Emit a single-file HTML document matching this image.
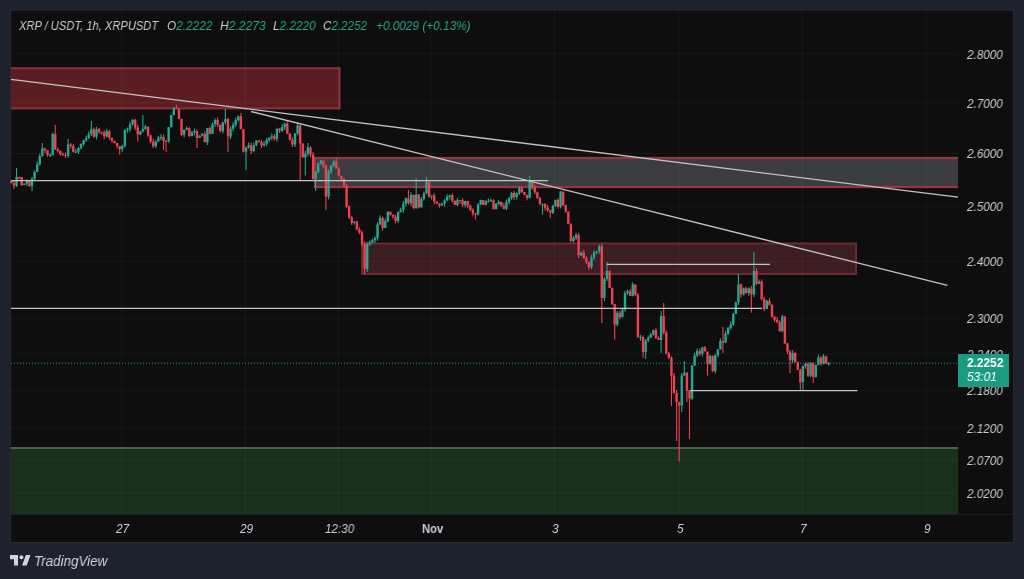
<!DOCTYPE html>
<html><head><meta charset="utf-8"><style>
*{margin:0;padding:0;box-sizing:border-box}
html,body{width:1024px;height:579px;overflow:hidden;background:#1e222d;font-family:"Liberation Sans",sans-serif}
svg{position:absolute;left:0;top:0}
.t{position:absolute;white-space:pre;transform-origin:0 0;will-change:transform}
</style></head><body>
<svg width="1024" height="579" viewBox="0 0 1024 579"><defs><clipPath id="plot"><rect x="11" y="10" width="947" height="504"/></clipPath></defs>
<rect x="10.5" y="10" width="1003" height="532.5" fill="#0e0e0e" stroke="#262a35" stroke-width="1"/><rect x="11" y="448" width="947" height="66" fill="#1a2f1c"/><line x1="11" y1="448" x2="958" y2="448" stroke="#4b604b" stroke-width="2"/><g clip-path="url(#plot)"><rect x="5" y="68.2" width="334.5" height="40.2" fill="#5c1d22" stroke="#8e2f3b" stroke-width="2"/><rect x="315" y="158" width="650" height="29" fill="#3a3c40" stroke="#9a3341" stroke-width="2.3"/></g><rect x="362" y="243.5" width="494" height="30.5" fill="#3c1d21" stroke="#6b2a31" stroke-width="2"/><line x1="121.9" y1="10" x2="121.9" y2="514" stroke="rgba(255,255,255,0.045)" stroke-width="1"/><line x1="245.3" y1="10" x2="245.3" y2="514" stroke="rgba(255,255,255,0.045)" stroke-width="1"/><line x1="338.6" y1="10" x2="338.6" y2="514" stroke="rgba(255,255,255,0.045)" stroke-width="1"/><line x1="430.8" y1="10" x2="430.8" y2="514" stroke="rgba(255,255,255,0.045)" stroke-width="1"/><line x1="554.4" y1="10" x2="554.4" y2="514" stroke="rgba(255,255,255,0.045)" stroke-width="1"/><line x1="678.7" y1="10" x2="678.7" y2="514" stroke="rgba(255,255,255,0.045)" stroke-width="1"/><line x1="802.2" y1="10" x2="802.2" y2="514" stroke="rgba(255,255,255,0.045)" stroke-width="1"/><line x1="926.3" y1="10" x2="926.3" y2="514" stroke="rgba(255,255,255,0.045)" stroke-width="1"/><line x1="11" y1="53.9" x2="958" y2="53.9" stroke="rgba(255,255,255,0.045)" stroke-width="1"/><line x1="11" y1="102.8" x2="958" y2="102.8" stroke="rgba(255,255,255,0.045)" stroke-width="1"/><line x1="11" y1="153.5" x2="958" y2="153.5" stroke="rgba(255,255,255,0.045)" stroke-width="1"/><line x1="11" y1="206.3" x2="958" y2="206.3" stroke="rgba(255,255,255,0.045)" stroke-width="1"/><line x1="11" y1="261.2" x2="958" y2="261.2" stroke="rgba(255,255,255,0.045)" stroke-width="1"/><line x1="11" y1="318.4" x2="958" y2="318.4" stroke="rgba(255,255,255,0.045)" stroke-width="1"/><line x1="11" y1="353.9" x2="958" y2="353.9" stroke="rgba(255,255,255,0.045)" stroke-width="1"/><line x1="11" y1="390.4" x2="958" y2="390.4" stroke="rgba(255,255,255,0.045)" stroke-width="1"/><line x1="11" y1="428.0" x2="958" y2="428.0" stroke="rgba(255,255,255,0.045)" stroke-width="1"/><line x1="11" y1="460.1" x2="958" y2="460.1" stroke="rgba(255,255,255,0.045)" stroke-width="1"/><line x1="11" y1="492.9" x2="958" y2="492.9" stroke="rgba(255,255,255,0.045)" stroke-width="1"/><path fill="#22a98f" d="M16.01 168.0h1.1v18.9h-1.1zM23.74 183.3h1.1v1.8h-1.1zM26.32 179.2h1.1v6.8h-1.1zM31.48 176.9h1.1v14.1h-1.1zM34.05 170.2h1.1v9.7h-1.1zM36.63 161.6h1.1v10.5h-1.1zM39.21 153.6h1.1v11.8h-1.1zM41.79 143.0h1.1v13.5h-1.1zM49.52 153.1h1.1v4.0h-1.1zM52.10 132.5h1.1v22.8h-1.1zM67.57 139.0h1.1v18.6h-1.1zM75.31 148.8h1.1v4.3h-1.1zM77.88 146.7h1.1v7.3h-1.1zM80.46 143.4h1.1v6.0h-1.1zM83.04 140.1h1.1v5.7h-1.1zM85.62 135.8h1.1v6.2h-1.1zM88.20 131.5h1.1v7.5h-1.1zM90.78 121.0h1.1v14.9h-1.1zM95.93 126.8h1.1v12.8h-1.1zM106.24 128.8h1.1v8.4h-1.1zM121.71 144.8h1.1v7.0h-1.1zM124.29 129.7h1.1v17.7h-1.1zM126.87 127.5h1.1v5.3h-1.1zM129.45 121.8h1.1v9.9h-1.1zM132.03 119.0h1.1v6.5h-1.1zM139.76 130.7h1.1v4.6h-1.1zM142.34 115.0h1.1v17.7h-1.1zM144.92 124.8h1.1v5.0h-1.1zM155.23 140.0h1.1v8.1h-1.1zM157.81 135.8h1.1v5.9h-1.1zM160.39 134.3h1.1v6.0h-1.1zM168.12 127.0h1.1v16.1h-1.1zM170.70 114.9h1.1v12.6h-1.1zM173.28 107.3h1.1v8.3h-1.1zM183.59 129.6h1.1v7.8h-1.1zM186.17 126.2h1.1v4.0h-1.1zM191.33 131.1h1.1v5.4h-1.1zM193.90 128.5h1.1v6.7h-1.1zM199.06 135.3h1.1v3.0h-1.1zM201.64 133.1h1.1v3.3h-1.1zM206.80 128.0h1.1v17.0h-1.1zM211.95 122.5h1.1v11.4h-1.1zM214.53 118.6h1.1v8.5h-1.1zM222.27 121.7h1.1v11.9h-1.1zM224.84 109.0h1.1v15.6h-1.1zM230.00 126.3h1.1v12.9h-1.1zM232.58 122.2h1.1v9.0h-1.1zM235.16 117.5h1.1v9.4h-1.1zM237.73 115.5h1.1v6.1h-1.1zM245.47 146.7h1.1v23.3h-1.1zM248.05 142.4h1.1v6.4h-1.1zM253.20 142.7h1.1v9.5h-1.1zM255.78 140.1h1.1v6.1h-1.1zM263.52 141.2h1.1v5.6h-1.1zM266.10 138.0h1.1v8.1h-1.1zM268.67 137.3h1.1v4.7h-1.1zM271.25 133.6h1.1v6.4h-1.1zM276.41 128.2h1.1v13.2h-1.1zM281.56 124.2h1.1v7.7h-1.1zM284.14 122.5h1.1v7.5h-1.1zM294.46 132.9h1.1v14.0h-1.1zM297.03 122.6h1.1v12.7h-1.1zM304.77 150.8h1.1v24.8h-1.1zM307.35 143.0h1.1v13.5h-1.1zM315.08 171.1h1.1v19.9h-1.1zM317.66 162.7h1.1v10.9h-1.1zM320.24 159.8h1.1v4.9h-1.1zM327.97 169.5h1.1v29.7h-1.1zM330.55 164.4h1.1v9.5h-1.1zM333.13 160.0h1.1v7.3h-1.1zM353.76 221.2h1.1v3.2h-1.1zM366.65 242.0h1.1v30.0h-1.1zM369.22 240.6h1.1v5.3h-1.1zM371.80 238.8h1.1v4.9h-1.1zM374.38 236.6h1.1v6.4h-1.1zM376.96 222.3h1.1v18.4h-1.1zM379.54 215.3h1.1v9.9h-1.1zM384.69 218.6h1.1v9.7h-1.1zM387.27 211.3h1.1v11.1h-1.1zM397.59 211.5h1.1v11.5h-1.1zM400.16 207.8h1.1v4.6h-1.1zM402.74 201.1h1.1v11.6h-1.1zM405.32 197.6h1.1v9.0h-1.1zM410.48 192.2h1.1v13.7h-1.1zM415.63 178.0h1.1v31.0h-1.1zM420.79 196.9h1.1v10.7h-1.1zM423.37 191.5h1.1v8.9h-1.1zM425.95 177.0h1.1v17.2h-1.1zM431.10 195.3h1.1v4.1h-1.1zM441.41 202.8h1.1v3.0h-1.1zM443.99 199.2h1.1v7.2h-1.1zM446.57 194.3h1.1v6.9h-1.1zM449.15 194.8h1.1v4.7h-1.1zM456.88 197.9h1.1v8.2h-1.1zM464.62 200.8h1.1v6.6h-1.1zM477.51 203.0h1.1v12.4h-1.1zM480.09 199.8h1.1v5.3h-1.1zM485.24 200.3h1.1v5.3h-1.1zM487.82 198.7h1.1v4.1h-1.1zM490.40 198.7h1.1v3.0h-1.1zM495.56 203.0h1.1v6.3h-1.1zM498.14 199.9h1.1v5.5h-1.1zM505.87 199.6h1.1v10.6h-1.1zM508.45 196.8h1.1v7.7h-1.1zM511.03 191.8h1.1v8.0h-1.1zM516.18 192.2h1.1v7.3h-1.1zM518.76 186.2h1.1v8.9h-1.1zM529.07 176.0h1.1v22.5h-1.1zM541.97 203.5h1.1v11.3h-1.1zM552.28 204.8h1.1v9.1h-1.1zM554.86 199.8h1.1v7.1h-1.1zM560.01 191.0h1.1v17.5h-1.1zM572.90 236.1h1.1v6.5h-1.1zM575.48 232.7h1.1v7.2h-1.1zM580.64 251.6h1.1v4.7h-1.1zM590.95 254.9h1.1v14.2h-1.1zM593.53 250.4h1.1v9.7h-1.1zM596.11 250.9h1.1v3.3h-1.1zM598.69 244.7h1.1v9.1h-1.1zM603.84 277.2h1.1v23.6h-1.1zM606.42 262.0h1.1v19.1h-1.1zM616.73 311.0h1.1v15.4h-1.1zM621.89 308.1h1.1v9.2h-1.1zM624.47 290.7h1.1v21.0h-1.1zM627.05 289.7h1.1v5.1h-1.1zM632.20 282.2h1.1v14.4h-1.1zM639.94 334.7h1.1v6.1h-1.1zM645.10 339.1h1.1v19.9h-1.1zM647.67 335.4h1.1v7.0h-1.1zM650.25 332.7h1.1v5.2h-1.1zM652.83 329.6h1.1v5.8h-1.1zM660.56 311.0h1.1v42.0h-1.1zM681.19 373.0h1.1v39.0h-1.1zM683.77 361.0h1.1v15.2h-1.1zM691.50 365.0h1.1v35.1h-1.1zM694.08 352.8h1.1v13.1h-1.1zM696.66 348.6h1.1v8.6h-1.1zM701.82 346.8h1.1v9.7h-1.1zM709.55 354.7h1.1v10.3h-1.1zM714.71 354.3h1.1v19.0h-1.1zM717.29 349.3h1.1v8.3h-1.1zM719.86 338.4h1.1v11.3h-1.1zM725.02 331.1h1.1v12.2h-1.1zM727.60 326.8h1.1v8.2h-1.1zM730.18 321.5h1.1v8.2h-1.1zM732.76 312.7h1.1v13.0h-1.1zM735.33 301.5h1.1v12.4h-1.1zM737.91 274.0h1.1v30.9h-1.1zM743.07 287.5h1.1v7.9h-1.1zM748.22 287.3h1.1v8.6h-1.1zM753.38 252.0h1.1v45.3h-1.1zM758.54 279.4h1.1v4.5h-1.1zM766.27 299.9h1.1v9.4h-1.1zM781.74 314.9h1.1v17.4h-1.1zM792.05 350.3h1.1v13.0h-1.1zM802.37 365.4h1.1v24.6h-1.1zM804.95 362.4h1.1v6.4h-1.1zM810.10 362.0h1.1v15.3h-1.1zM815.26 364.8h1.1v13.0h-1.1zM817.84 354.7h1.1v10.7h-1.1zM822.99 353.9h1.1v10.6h-1.1zM828.15 362.1h1.1v3.5h-1.1zM15.36 176.9h2.4v8.9h-2.4zM23.09 183.5h2.4v1.4h-2.4zM25.67 180.5h2.4v3.0h-2.4zM30.83 178.8h2.4v7.3h-2.4zM33.40 172.0h2.4v6.8h-2.4zM35.98 164.5h2.4v7.4h-2.4zM38.56 156.1h2.4v8.4h-2.4zM41.14 148.5h2.4v7.7h-2.4zM48.87 155.1h2.4v1.0h-2.4zM51.45 134.1h2.4v20.9h-2.4zM66.92 144.6h2.4v11.2h-2.4zM74.66 151.7h2.4v1.0h-2.4zM77.23 148.0h2.4v3.7h-2.4zM79.81 143.8h2.4v4.1h-2.4zM82.39 140.3h2.4v3.6h-2.4zM84.97 138.1h2.4v2.2h-2.4zM87.55 134.2h2.4v3.9h-2.4zM90.13 129.2h2.4v4.9h-2.4zM95.28 129.3h2.4v7.4h-2.4zM105.59 131.3h2.4v5.1h-2.4zM121.06 146.0h2.4v3.2h-2.4zM123.64 129.9h2.4v16.1h-2.4zM126.22 129.1h2.4v1.0h-2.4zM128.80 124.3h2.4v4.9h-2.4zM131.38 119.8h2.4v4.5h-2.4zM139.11 131.2h2.4v3.4h-2.4zM141.69 129.0h2.4v2.2h-2.4zM144.27 126.6h2.4v2.4h-2.4zM154.58 141.5h2.4v4.7h-2.4zM157.16 137.8h2.4v3.7h-2.4zM159.74 137.0h2.4v1.0h-2.4zM167.47 127.3h2.4v13.9h-2.4zM170.05 115.1h2.4v12.2h-2.4zM172.63 107.9h2.4v7.2h-2.4zM182.94 129.7h2.4v5.1h-2.4zM185.52 128.0h2.4v1.7h-2.4zM190.68 132.2h2.4v3.9h-2.4zM193.25 131.0h2.4v1.2h-2.4zM198.41 135.6h2.4v2.4h-2.4zM200.99 134.1h2.4v1.5h-2.4zM206.15 128.1h2.4v14.1h-2.4zM211.30 124.2h2.4v9.7h-2.4zM213.88 120.1h2.4v4.0h-2.4zM221.62 122.2h2.4v9.1h-2.4zM224.19 119.1h2.4v3.1h-2.4zM229.35 128.8h2.4v7.6h-2.4zM231.93 124.8h2.4v4.0h-2.4zM234.51 120.0h2.4v4.8h-2.4zM237.08 116.2h2.4v3.8h-2.4zM244.82 147.5h2.4v4.3h-2.4zM247.40 145.3h2.4v2.2h-2.4zM252.55 145.5h2.4v5.6h-2.4zM255.13 140.7h2.4v4.8h-2.4zM262.87 143.7h2.4v1.6h-2.4zM265.45 140.0h2.4v3.7h-2.4zM268.02 137.6h2.4v2.4h-2.4zM270.60 136.3h2.4v1.3h-2.4zM275.76 128.7h2.4v10.3h-2.4zM280.91 127.1h2.4v3.6h-2.4zM283.49 123.7h2.4v3.4h-2.4zM293.81 133.4h2.4v11.1h-2.4zM296.38 125.6h2.4v7.8h-2.4zM304.12 153.7h2.4v3.7h-2.4zM306.70 147.6h2.4v6.2h-2.4zM314.43 171.9h2.4v7.1h-2.4zM317.01 163.5h2.4v8.4h-2.4zM319.59 160.6h2.4v2.9h-2.4zM327.32 171.2h2.4v25.3h-2.4zM329.90 165.7h2.4v5.5h-2.4zM332.48 161.5h2.4v4.2h-2.4zM353.11 221.5h2.4v1.2h-2.4zM366.00 243.9h2.4v25.2h-2.4zM368.57 242.2h2.4v1.7h-2.4zM371.15 240.2h2.4v2.0h-2.4zM373.73 238.1h2.4v2.1h-2.4zM376.31 224.4h2.4v13.7h-2.4zM378.89 218.1h2.4v6.3h-2.4zM384.04 221.1h2.4v6.8h-2.4zM386.62 211.7h2.4v9.5h-2.4zM396.94 212.0h2.4v8.9h-2.4zM399.51 209.8h2.4v2.2h-2.4zM402.09 203.8h2.4v6.0h-2.4zM404.67 198.3h2.4v5.5h-2.4zM409.83 195.1h2.4v8.2h-2.4zM414.98 194.6h2.4v13.4h-2.4zM420.14 199.1h2.4v8.5h-2.4zM422.72 193.2h2.4v5.9h-2.4zM425.30 182.1h2.4v11.1h-2.4zM430.45 195.5h2.4v1.0h-2.4zM440.76 203.6h2.4v1.8h-2.4zM443.34 200.4h2.4v3.2h-2.4zM445.92 196.8h2.4v3.7h-2.4zM448.50 195.3h2.4v1.5h-2.4zM456.23 200.0h2.4v4.9h-2.4zM463.97 201.0h2.4v3.8h-2.4zM476.86 204.5h2.4v10.1h-2.4zM479.44 200.1h2.4v4.5h-2.4zM484.59 201.3h2.4v3.4h-2.4zM487.17 201.0h2.4v1.0h-2.4zM489.75 200.2h2.4v1.0h-2.4zM494.91 203.8h2.4v5.5h-2.4zM497.49 202.1h2.4v1.7h-2.4zM505.22 202.0h2.4v6.8h-2.4zM507.80 198.3h2.4v3.7h-2.4zM510.38 193.0h2.4v5.3h-2.4zM515.53 193.2h2.4v3.8h-2.4zM518.11 188.3h2.4v4.9h-2.4zM528.42 181.9h2.4v16.1h-2.4zM541.32 203.9h2.4v1.0h-2.4zM551.63 205.8h2.4v7.1h-2.4zM554.21 199.8h2.4v6.0h-2.4zM559.36 191.6h2.4v15.4h-2.4zM572.25 237.9h2.4v3.1h-2.4zM574.83 235.0h2.4v2.9h-2.4zM579.99 252.8h2.4v2.5h-2.4zM590.30 257.6h2.4v9.6h-2.4zM592.88 252.6h2.4v5.0h-2.4zM595.46 251.3h2.4v1.3h-2.4zM598.04 246.2h2.4v5.0h-2.4zM603.19 279.0h2.4v19.1h-2.4zM605.77 271.0h2.4v8.0h-2.4zM616.08 312.7h2.4v11.9h-2.4zM621.24 309.5h2.4v7.7h-2.4zM623.82 293.1h2.4v16.4h-2.4zM626.40 291.2h2.4v2.0h-2.4zM631.55 284.4h2.4v11.5h-2.4zM639.29 336.9h2.4v1.0h-2.4zM644.45 340.5h2.4v11.4h-2.4zM647.02 337.7h2.4v2.8h-2.4zM649.60 334.6h2.4v3.1h-2.4zM652.18 330.1h2.4v4.6h-2.4zM659.91 315.9h2.4v24.1h-2.4zM680.54 375.4h2.4v30.0h-2.4zM683.12 372.7h2.4v2.7h-2.4zM690.85 365.5h2.4v33.1h-2.4zM693.43 355.6h2.4v9.8h-2.4zM696.01 351.0h2.4v4.6h-2.4zM701.17 347.4h2.4v6.3h-2.4zM708.90 356.0h2.4v8.0h-2.4zM714.06 355.3h2.4v15.6h-2.4zM716.64 349.3h2.4v6.0h-2.4zM719.21 340.9h2.4v8.4h-2.4zM724.37 333.8h2.4v8.7h-2.4zM726.95 327.9h2.4v5.9h-2.4zM729.53 324.5h2.4v3.4h-2.4zM732.11 313.8h2.4v10.7h-2.4zM734.68 302.4h2.4v11.5h-2.4zM737.26 284.4h2.4v18.0h-2.4zM742.42 288.2h2.4v6.4h-2.4zM747.57 288.4h2.4v4.7h-2.4zM752.73 271.0h2.4v23.6h-2.4zM757.89 281.6h2.4v2.2h-2.4zM765.62 300.7h2.4v8.4h-2.4zM781.09 316.5h2.4v14.6h-2.4zM791.40 353.0h2.4v7.2h-2.4zM801.72 366.1h2.4v16.2h-2.4zM804.30 364.1h2.4v2.0h-2.4zM809.45 363.3h2.4v12.5h-2.4zM814.61 365.0h2.4v12.0h-2.4zM817.19 357.6h2.4v7.5h-2.4zM822.34 356.4h2.4v7.4h-2.4zM827.50 363.3h2.4v1.0h-2.4z"/><path fill="#f04152" d="M10.85 180.0h1.1v3.4h-1.1zM13.43 181.0h1.1v8.0h-1.1zM18.58 176.7h1.1v2.7h-1.1zM21.16 176.9h1.1v9.2h-1.1zM28.90 180.1h1.1v6.6h-1.1zM44.37 147.5h1.1v5.5h-1.1zM46.95 150.0h1.1v6.8h-1.1zM54.68 125.0h1.1v25.1h-1.1zM57.26 147.4h1.1v5.0h-1.1zM59.84 150.2h1.1v5.5h-1.1zM62.41 152.5h1.1v3.3h-1.1zM64.99 152.5h1.1v5.5h-1.1zM70.15 143.1h1.1v5.5h-1.1zM72.73 143.7h1.1v8.9h-1.1zM93.35 127.5h1.1v10.6h-1.1zM98.51 127.9h1.1v6.0h-1.1zM101.09 131.7h1.1v3.3h-1.1zM103.67 130.3h1.1v9.0h-1.1zM108.82 130.1h1.1v9.6h-1.1zM111.40 137.6h1.1v4.8h-1.1zM113.98 140.5h1.1v2.9h-1.1zM116.56 142.9h1.1v5.6h-1.1zM119.14 145.8h1.1v8.8h-1.1zM134.61 118.8h1.1v11.5h-1.1zM137.18 124.7h1.1v16.8h-1.1zM147.50 126.6h1.1v10.2h-1.1zM150.07 134.4h1.1v9.0h-1.1zM152.65 138.8h1.1v9.5h-1.1zM162.97 134.4h1.1v15.6h-1.1zM165.54 139.9h1.1v12.1h-1.1zM175.86 104.7h1.1v4.4h-1.1zM178.44 108.5h1.1v10.8h-1.1zM181.01 118.6h1.1v17.4h-1.1zM188.75 127.2h1.1v9.9h-1.1zM196.48 129.6h1.1v18.4h-1.1zM204.22 131.6h1.1v11.0h-1.1zM209.37 126.5h1.1v7.8h-1.1zM217.11 117.6h1.1v9.5h-1.1zM219.69 124.1h1.1v8.3h-1.1zM227.42 118.1h1.1v33.6h-1.1zM240.31 113.0h1.1v16.3h-1.1zM242.89 129.1h1.1v23.5h-1.1zM250.63 142.5h1.1v11.6h-1.1zM258.36 140.1h1.1v2.4h-1.1zM260.94 140.1h1.1v7.9h-1.1zM273.83 134.0h1.1v6.4h-1.1zM278.99 127.7h1.1v5.3h-1.1zM286.72 120.0h1.1v14.1h-1.1zM289.30 133.2h1.1v7.3h-1.1zM291.88 137.3h1.1v9.6h-1.1zM299.61 124.5h1.1v56.5h-1.1zM302.19 143.0h1.1v14.4h-1.1zM309.93 146.3h1.1v10.9h-1.1zM312.50 152.0h1.1v27.6h-1.1zM322.82 160.2h1.1v7.8h-1.1zM325.39 164.2h1.1v45.8h-1.1zM335.71 158.0h1.1v10.5h-1.1zM338.29 167.2h1.1v9.1h-1.1zM340.86 175.7h1.1v5.4h-1.1zM343.44 178.2h1.1v8.8h-1.1zM346.02 183.4h1.1v24.8h-1.1zM348.60 205.5h1.1v13.5h-1.1zM351.18 215.8h1.1v9.3h-1.1zM356.33 220.7h1.1v9.6h-1.1zM358.91 227.2h1.1v6.8h-1.1zM361.49 230.8h1.1v15.6h-1.1zM364.07 241.4h1.1v32.6h-1.1zM382.12 216.4h1.1v14.3h-1.1zM389.85 211.4h1.1v4.0h-1.1zM392.43 214.5h1.1v4.3h-1.1zM395.01 214.4h1.1v9.2h-1.1zM407.90 190.0h1.1v14.8h-1.1zM413.05 194.6h1.1v14.7h-1.1zM418.21 194.0h1.1v14.6h-1.1zM428.52 180.2h1.1v17.7h-1.1zM433.68 193.2h1.1v11.2h-1.1zM436.26 201.2h1.1v3.1h-1.1zM438.84 203.3h1.1v4.5h-1.1zM451.73 193.5h1.1v9.3h-1.1zM454.31 200.5h1.1v4.6h-1.1zM459.46 199.8h1.1v4.0h-1.1zM462.04 198.3h1.1v9.0h-1.1zM467.20 200.8h1.1v7.5h-1.1zM469.78 204.4h1.1v6.5h-1.1zM472.35 208.2h1.1v8.2h-1.1zM474.93 212.8h1.1v6.6h-1.1zM482.67 199.9h1.1v5.4h-1.1zM492.98 199.2h1.1v10.2h-1.1zM500.71 201.5h1.1v5.6h-1.1zM503.29 202.9h1.1v6.3h-1.1zM513.61 191.0h1.1v8.9h-1.1zM521.34 187.1h1.1v5.9h-1.1zM523.92 191.8h1.1v3.5h-1.1zM526.50 194.7h1.1v5.6h-1.1zM531.65 181.6h1.1v8.3h-1.1zM534.23 184.8h1.1v9.5h-1.1zM536.81 191.5h1.1v7.2h-1.1zM539.39 197.0h1.1v8.5h-1.1zM544.54 203.1h1.1v7.6h-1.1zM547.12 204.9h1.1v7.0h-1.1zM549.70 209.5h1.1v8.5h-1.1zM557.44 198.4h1.1v10.1h-1.1zM562.59 191.6h1.1v14.3h-1.1zM565.17 204.8h1.1v7.9h-1.1zM567.75 211.4h1.1v12.9h-1.1zM570.33 223.3h1.1v18.4h-1.1zM578.06 232.8h1.1v25.1h-1.1zM583.22 249.8h1.1v8.9h-1.1zM585.80 256.1h1.1v7.8h-1.1zM588.37 261.8h1.1v7.9h-1.1zM601.27 243.8h1.1v79.2h-1.1zM609.00 270.3h1.1v17.7h-1.1zM611.58 287.5h1.1v17.6h-1.1zM614.16 303.7h1.1v35.9h-1.1zM619.31 310.8h1.1v8.4h-1.1zM629.63 289.2h1.1v6.9h-1.1zM634.78 284.2h1.1v11.8h-1.1zM637.36 293.0h1.1v44.7h-1.1zM642.52 335.4h1.1v22.6h-1.1zM655.41 327.8h1.1v11.1h-1.1zM657.99 336.3h1.1v3.7h-1.1zM663.14 303.0h1.1v31.5h-1.1zM665.72 330.4h1.1v23.9h-1.1zM668.30 351.9h1.1v7.2h-1.1zM670.88 356.3h1.1v49.7h-1.1zM673.46 373.1h1.1v20.5h-1.1zM676.03 390.1h1.1v50.9h-1.1zM678.61 401.9h1.1v59.9h-1.1zM686.35 372.1h1.1v29.9h-1.1zM688.93 390.2h1.1v48.8h-1.1zM699.24 348.4h1.1v7.5h-1.1zM704.39 346.0h1.1v5.6h-1.1zM706.97 351.5h1.1v24.3h-1.1zM712.13 355.6h1.1v16.3h-1.1zM722.44 327.0h1.1v26.0h-1.1zM740.49 283.5h1.1v13.9h-1.1zM745.65 286.7h1.1v6.9h-1.1zM750.80 285.8h1.1v26.9h-1.1zM755.96 268.2h1.1v17.2h-1.1zM761.12 279.4h1.1v21.0h-1.1zM763.69 296.8h1.1v14.3h-1.1zM768.85 297.9h1.1v7.6h-1.1zM771.43 303.7h1.1v14.0h-1.1zM774.01 315.8h1.1v6.1h-1.1zM776.59 316.7h1.1v6.3h-1.1zM779.16 320.3h1.1v11.7h-1.1zM784.32 316.0h1.1v27.9h-1.1zM786.90 342.8h1.1v11.3h-1.1zM789.48 350.0h1.1v23.3h-1.1zM794.63 351.7h1.1v10.8h-1.1zM797.21 361.5h1.1v8.6h-1.1zM799.79 368.8h1.1v21.2h-1.1zM807.52 361.9h1.1v15.1h-1.1zM812.68 362.2h1.1v20.8h-1.1zM820.42 356.1h1.1v9.6h-1.1zM825.57 355.6h1.1v8.6h-1.1zM10.20 181.0h2.4v2.0h-2.4zM12.78 183.0h2.4v2.8h-2.4zM17.93 176.9h2.4v1.0h-2.4zM20.51 177.1h2.4v7.8h-2.4zM28.25 180.5h2.4v5.5h-2.4zM43.72 148.5h2.4v2.1h-2.4zM46.30 150.6h2.4v4.5h-2.4zM54.03 134.1h2.4v15.4h-2.4zM56.61 149.5h2.4v1.6h-2.4zM59.19 151.1h2.4v2.8h-2.4zM61.76 153.9h2.4v1.0h-2.4zM64.34 154.9h2.4v1.0h-2.4zM69.50 144.6h2.4v1.3h-2.4zM72.08 145.9h2.4v5.9h-2.4zM92.70 129.2h2.4v7.5h-2.4zM97.86 129.3h2.4v2.6h-2.4zM100.44 131.9h2.4v1.0h-2.4zM103.02 132.3h2.4v4.0h-2.4zM108.17 131.3h2.4v6.4h-2.4zM110.75 137.7h2.4v3.4h-2.4zM113.33 141.0h2.4v2.0h-2.4zM115.91 143.0h2.4v3.1h-2.4zM118.49 146.2h2.4v3.1h-2.4zM133.96 119.8h2.4v7.8h-2.4zM136.53 127.6h2.4v7.0h-2.4zM146.85 126.6h2.4v8.9h-2.4zM149.42 135.5h2.4v6.2h-2.4zM152.00 141.7h2.4v4.5h-2.4zM162.32 137.0h2.4v4.0h-2.4zM164.89 141.0h2.4v1.0h-2.4zM175.21 107.9h2.4v1.0h-2.4zM177.79 108.5h2.4v10.4h-2.4zM180.36 118.9h2.4v16.0h-2.4zM188.10 128.0h2.4v8.1h-2.4zM195.83 131.0h2.4v7.0h-2.4zM203.57 134.1h2.4v8.0h-2.4zM208.72 128.1h2.4v5.7h-2.4zM216.46 120.1h2.4v4.8h-2.4zM219.04 124.9h2.4v6.4h-2.4zM226.77 119.1h2.4v17.2h-2.4zM239.66 116.2h2.4v13.0h-2.4zM242.24 129.2h2.4v22.6h-2.4zM249.98 145.3h2.4v5.8h-2.4zM257.71 140.7h2.4v1.2h-2.4zM260.29 142.0h2.4v3.4h-2.4zM273.18 136.3h2.4v2.7h-2.4zM278.34 128.7h2.4v1.9h-2.4zM286.07 123.7h2.4v9.9h-2.4zM288.65 133.6h2.4v6.4h-2.4zM291.23 140.0h2.4v4.5h-2.4zM298.96 125.6h2.4v17.8h-2.4zM301.54 143.4h2.4v14.0h-2.4zM309.28 147.6h2.4v7.0h-2.4zM311.85 154.5h2.4v24.5h-2.4zM322.17 160.6h2.4v4.7h-2.4zM324.74 165.2h2.4v31.3h-2.4zM335.06 161.5h2.4v7.0h-2.4zM337.64 168.5h2.4v7.2h-2.4zM340.21 175.7h2.4v3.0h-2.4zM342.79 178.7h2.4v6.8h-2.4zM345.37 185.5h2.4v20.9h-2.4zM347.95 206.5h2.4v11.0h-2.4zM350.53 217.5h2.4v5.2h-2.4zM355.68 221.5h2.4v8.0h-2.4zM358.26 229.5h2.4v2.9h-2.4zM360.84 232.4h2.4v11.6h-2.4zM363.42 244.1h2.4v25.0h-2.4zM381.47 218.1h2.4v9.8h-2.4zM389.20 211.7h2.4v3.0h-2.4zM391.78 214.7h2.4v2.1h-2.4zM394.36 216.8h2.4v4.1h-2.4zM407.25 198.3h2.4v5.0h-2.4zM412.40 195.1h2.4v12.9h-2.4zM417.56 194.6h2.4v13.0h-2.4zM427.87 182.1h2.4v14.3h-2.4zM433.03 195.5h2.4v5.9h-2.4zM435.61 201.5h2.4v2.0h-2.4zM438.19 203.4h2.4v2.0h-2.4zM451.08 195.3h2.4v5.5h-2.4zM453.66 200.7h2.4v4.2h-2.4zM458.81 200.0h2.4v1.0h-2.4zM461.39 200.2h2.4v4.6h-2.4zM466.55 201.0h2.4v4.7h-2.4zM469.13 205.7h2.4v4.1h-2.4zM471.70 209.8h2.4v3.8h-2.4zM474.28 213.6h2.4v1.0h-2.4zM482.02 200.1h2.4v4.6h-2.4zM492.33 200.2h2.4v9.1h-2.4zM500.06 202.1h2.4v3.6h-2.4zM502.64 205.7h2.4v3.1h-2.4zM512.96 193.0h2.4v3.9h-2.4zM520.69 188.3h2.4v3.7h-2.4zM523.27 192.0h2.4v2.9h-2.4zM525.85 194.9h2.4v3.1h-2.4zM531.00 181.9h2.4v5.6h-2.4zM533.58 187.4h2.4v4.9h-2.4zM536.16 192.3h2.4v5.6h-2.4zM538.74 197.9h2.4v6.2h-2.4zM543.89 203.9h2.4v3.9h-2.4zM546.47 207.8h2.4v2.4h-2.4zM549.05 210.2h2.4v2.6h-2.4zM556.79 199.8h2.4v7.2h-2.4zM561.94 191.6h2.4v13.5h-2.4zM564.52 205.1h2.4v6.4h-2.4zM567.10 211.6h2.4v12.7h-2.4zM569.68 224.3h2.4v16.7h-2.4zM577.41 235.0h2.4v20.3h-2.4zM582.57 252.8h2.4v5.5h-2.4zM585.15 258.2h2.4v3.7h-2.4zM587.72 261.9h2.4v5.3h-2.4zM600.62 246.2h2.4v51.9h-2.4zM608.35 271.0h2.4v16.9h-2.4zM610.93 287.9h2.4v16.1h-2.4zM613.51 304.0h2.4v20.6h-2.4zM618.66 312.7h2.4v4.5h-2.4zM628.98 291.2h2.4v4.7h-2.4zM634.13 284.4h2.4v10.7h-2.4zM636.71 295.1h2.4v41.9h-2.4zM641.87 336.9h2.4v15.0h-2.4zM654.76 330.1h2.4v7.9h-2.4zM657.34 338.0h2.4v2.0h-2.4zM662.49 315.9h2.4v16.5h-2.4zM665.07 332.4h2.4v21.0h-2.4zM667.65 353.4h2.4v4.3h-2.4zM670.23 357.7h2.4v18.1h-2.4zM672.81 375.8h2.4v17.2h-2.4zM675.38 393.0h2.4v8.9h-2.4zM677.96 401.9h2.4v3.5h-2.4zM685.70 372.7h2.4v18.1h-2.4zM688.28 390.8h2.4v7.8h-2.4zM698.59 351.0h2.4v2.8h-2.4zM703.74 347.4h2.4v4.0h-2.4zM706.32 351.5h2.4v12.5h-2.4zM711.48 356.0h2.4v14.9h-2.4zM721.79 340.9h2.4v1.6h-2.4zM739.84 284.4h2.4v10.2h-2.4zM745.00 288.2h2.4v4.8h-2.4zM750.15 288.4h2.4v6.2h-2.4zM755.31 271.0h2.4v12.7h-2.4zM760.47 281.6h2.4v17.5h-2.4zM763.04 299.1h2.4v10.1h-2.4zM768.20 300.7h2.4v4.4h-2.4zM770.78 305.1h2.4v11.6h-2.4zM773.36 316.7h2.4v3.0h-2.4zM775.94 319.7h2.4v2.6h-2.4zM778.51 322.2h2.4v8.9h-2.4zM783.67 316.5h2.4v26.9h-2.4zM786.25 343.5h2.4v8.0h-2.4zM788.83 351.4h2.4v8.8h-2.4zM793.98 353.0h2.4v9.1h-2.4zM796.56 362.1h2.4v7.7h-2.4zM799.14 369.8h2.4v12.5h-2.4zM806.87 364.1h2.4v11.7h-2.4zM812.03 363.3h2.4v13.7h-2.4zM819.77 357.6h2.4v6.2h-2.4zM824.92 356.4h2.4v7.0h-2.4z"/><line x1="11" y1="180.7" x2="548" y2="180.7" stroke="#c2c2c2" stroke-width="1.3"/><line x1="607" y1="264.4" x2="770" y2="264.4" stroke="#c2c2c2" stroke-width="1.3"/><line x1="11" y1="308.4" x2="762" y2="308.4" stroke="#c2c2c2" stroke-width="1.3"/><line x1="690" y1="390.7" x2="857.5" y2="390.7" stroke="#c2c2c2" stroke-width="1.3"/><line x1="11" y1="79.4" x2="958" y2="197.2" stroke="#c2c2c2" stroke-width="1.3"/><line x1="251" y1="111.5" x2="947.5" y2="285.3" stroke="#c2c2c2" stroke-width="1.3"/><line x1="11" y1="363.2" x2="958" y2="363.2" stroke="#1a9c82" stroke-width="1" stroke-dasharray="1 2"/><line x1="11" y1="514.5" x2="1013" y2="514.5" stroke="#1e1e1e" stroke-width="1"/>
<g fill="#d1d4dc"><path d="M10 555H18V565.4H14V559.2H10Z"/><circle cx="21.4" cy="557.3" r="2"/><path d="M25.9 555H30.5L26.7 565.4H22Z"/></g>
</svg>
<div id="h1" class="t" style="left:18.90px;top:17.62px;font-size:13.08px;line-height:15.7px;transform:scaleX(0.8524);font-style:italic;color:#c9ccd1">XRP / USDT, 1h, XRPUSDT</div><div id="h2" class="t" style="left:167.00px;top:17.62px;font-size:13.08px;line-height:15.7px;transform:scaleX(0.9040);font-style:italic;color:#c9ccd1">O<span style="color:#26a686">2.2222</span></div><div id="h3" class="t" style="left:219.60px;top:17.62px;font-size:13.08px;line-height:15.7px;transform:scaleX(0.9225);font-style:italic;color:#c9ccd1">H<span style="color:#26a686">2.2273</span></div><div id="h4" class="t" style="left:272.80px;top:17.62px;font-size:13.08px;line-height:15.7px;transform:scaleX(0.9021);font-style:italic;color:#c9ccd1">L<span style="color:#26a686">2.2220</span></div><div id="h5" class="t" style="left:323.20px;top:17.62px;font-size:13.08px;line-height:15.7px;transform:scaleX(0.8877);font-style:italic;color:#c9ccd1">C<span style="color:#26a686">2.2252</span></div><div id="h6" class="t" style="left:375.50px;top:17.62px;font-size:13.08px;line-height:15.7px;transform:scaleX(0.9029);font-style:italic;color:#26a686">+0.0029 (+0.13%)</div><div id="p0" class="t" style="left:966.70px;top:47.84px;font-size:12.21px;line-height:14.65px;transform:scaleX(0.9580);font-style:italic;color:#c9ccd1">2.8000</div><div id="p1" class="t" style="left:966.70px;top:96.74px;font-size:12.21px;line-height:14.65px;transform:scaleX(0.9580);font-style:italic;color:#c9ccd1">2.7000</div><div id="p2" class="t" style="left:966.70px;top:147.49px;font-size:12.21px;line-height:14.65px;transform:scaleX(0.9580);font-style:italic;color:#c9ccd1">2.6000</div><div id="p3" class="t" style="left:966.70px;top:200.23px;font-size:12.21px;line-height:14.65px;transform:scaleX(0.9580);font-style:italic;color:#c9ccd1">2.5000</div><div id="p4" class="t" style="left:966.70px;top:255.12px;font-size:12.21px;line-height:14.65px;transform:scaleX(0.9580);font-style:italic;color:#c9ccd1">2.4000</div><div id="p5" class="t" style="left:966.70px;top:312.34px;font-size:12.21px;line-height:14.65px;transform:scaleX(0.9580);font-style:italic;color:#c9ccd1">2.3000</div><div id="p6" class="t" style="left:966.70px;top:347.88px;font-size:12.21px;line-height:14.65px;transform:scaleX(0.9580);font-style:italic;color:#c9ccd1">2.2400</div><div id="p7" class="t" style="left:966.70px;top:384.39px;font-size:12.21px;line-height:14.65px;transform:scaleX(0.9580);font-style:italic;color:#c9ccd1">2.1800</div><div id="p8" class="t" style="left:966.70px;top:421.92px;font-size:12.21px;line-height:14.65px;transform:scaleX(0.9580);font-style:italic;color:#c9ccd1">2.1200</div><div id="p9" class="t" style="left:966.70px;top:454.01px;font-size:12.21px;line-height:14.65px;transform:scaleX(0.9580);font-style:italic;color:#c9ccd1">2.0700</div><div id="p10" class="t" style="left:966.70px;top:486.89px;font-size:12.21px;line-height:14.65px;transform:scaleX(0.9580);font-style:italic;color:#c9ccd1">2.0200</div><div id="t0" class="t" style="left:116.35px;top:522.12px;font-size:11.92px;line-height:14.3px;transform:scaleX(1.0000);font-style:italic;color:#c9ccd1">27</div><div id="t1" class="t" style="left:239.85px;top:522.12px;font-size:11.92px;line-height:14.3px;transform:scaleX(1.0000);font-style:italic;color:#c9ccd1">29</div><div id="t2" class="t" style="left:324.95px;top:522.12px;font-size:11.92px;line-height:14.3px;transform:scaleX(0.9801);font-style:italic;color:#c9ccd1">12:30</div><div id="t3" class="t" style="left:552.45px;top:522.12px;font-size:11.92px;line-height:14.3px;transform:scaleX(1.0000);font-style:italic;color:#c9ccd1">3</div><div id="t4" class="t" style="left:676.75px;top:522.12px;font-size:11.92px;line-height:14.3px;transform:scaleX(1.0000);font-style:italic;color:#c9ccd1">5</div><div id="t5" class="t" style="left:799.95px;top:522.12px;font-size:11.92px;line-height:14.3px;transform:scaleX(1.0000);font-style:italic;color:#c9ccd1">7</div><div id="t6" class="t" style="left:923.80px;top:522.12px;font-size:11.92px;line-height:14.3px;transform:scaleX(1.0000);font-style:italic;color:#c9ccd1">9</div><div id="tnov" class="t" style="left:421.60px;top:522.12px;font-size:11.92px;line-height:14.3px;transform:scaleX(0.9496);font-weight:bold;color:#c9ccd1">Nov</div><div id="logo" class="t" style="left:34.30px;top:552.98px;font-size:14.39px;line-height:17.27px;transform:scaleX(0.9318);font-style:italic;color:#d1d4dc">TradingView</div><div style="position:absolute;left:958px;top:354px;width:51px;height:33px;background:#1a9c82"></div><div id="pt1" class="t" style="left:967.00px;top:355.73px;font-size:12.65px;line-height:15.17px;transform:scaleX(0.9389);font-weight:bold;color:#ffffff">2.2252</div><div id="pt2" class="t" style="left:967.00px;top:369.70px;font-size:12.35px;line-height:14.83px;transform:scaleX(0.9667);font-style:italic;color:#ffffff">53:01</div>
</body></html>
